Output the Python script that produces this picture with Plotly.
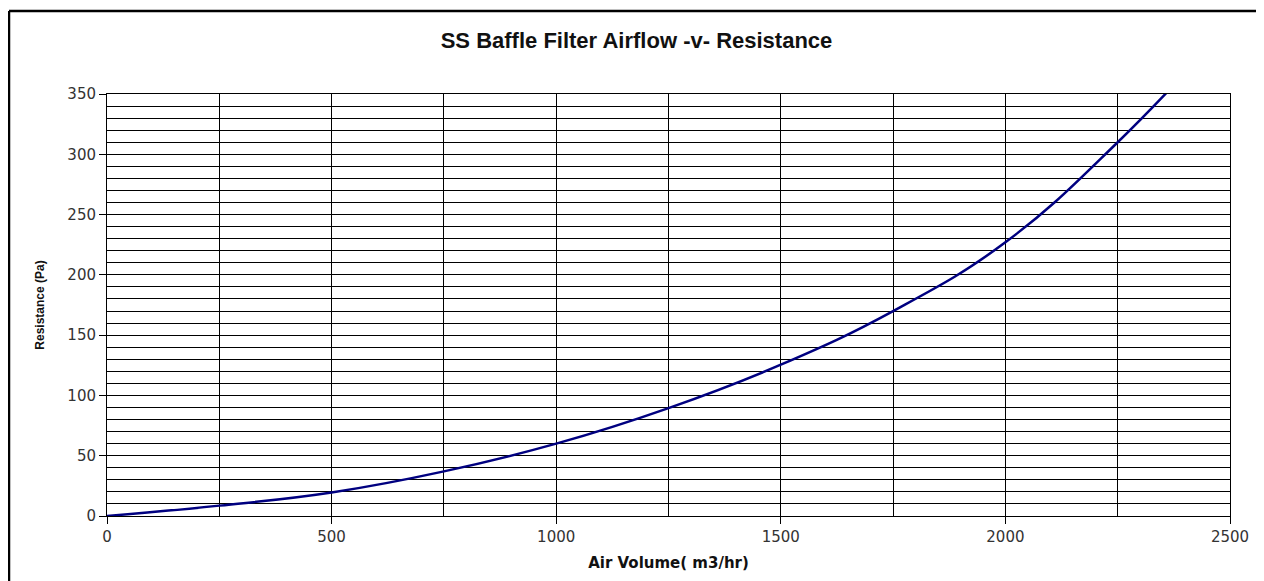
import plotly.graph_objects as go

air_volume = [0, 250, 500, 750, 1000, 1250, 1500, 1750, 2000, 2250, 2500]
resistance = [0, 8.6, 19.5, 37, 60, 89.5, 125.5, 170, 227, 310, 408]

x_ticks = [0, 500, 1000, 1500, 2000, 2500]
y_ticks = [0, 50, 100, 150, 200, 250, 300, 350]

fig = go.Figure()
fig.add_trace(go.Scatter(
    x=air_volume, y=resistance, mode="lines",
    line=dict(color="#000080", width=2.5, shape="spline", smoothing=1.2),
    showlegend=False, hoverinfo="x+y",
))

tick_font = dict(family="DejaVu Sans, Verdana, sans-serif", size=15, color="#333")
W, H = 1256, 573
L, R, T, B = 99, 34, 86, 65
pw, ph = W - L - R, H - T - B

fig.update_layout(
    width=W, height=H,
    margin=dict(l=L, r=R, t=T, b=B),
    paper_bgcolor="white", plot_bgcolor="white",
    font=dict(family="Liberation Sans, Arial, sans-serif", size=13, color="#222"),
    title=dict(text="<b>SS Baffle Filter Airflow -v- Resistance</b>",
               x=(628.5 - L) / pw, xref="paper", xanchor="center",
               y=1 - 32 / H, yref="container", yanchor="middle",
               font=dict(family="Liberation Sans, Arial, sans-serif", size=22, color="#111")),
    xaxis=dict(range=[0, 2500], tickvals=x_ticks, ticks="outside", ticklen=7,
               tickcolor="black", tickfont=tick_font,
               showline=True, linecolor="black", linewidth=1,
               mirror=True, showgrid=True, gridcolor="black", gridwidth=1,
               minor=dict(dtick=250, showgrid=True, gridcolor="black", gridwidth=1, ticks=""),
               zeroline=False, fixedrange=True,
               title=dict(text="<b>Air Volume( m3/hr)</b>",
                          font=dict(family="DejaVu Sans, Verdana, sans-serif", size=15, color="#111"),
                          standoff=12)),
    yaxis=dict(range=[0, 350], tickvals=y_ticks, ticks="outside", ticklen=7,
               tickcolor="black", tickfont=tick_font,
               showline=True, linecolor="black", linewidth=1,
               mirror=True, showgrid=True, gridcolor="black", gridwidth=1,
               minor=dict(dtick=10, showgrid=True, gridcolor="black", gridwidth=1, ticks=""),
               zeroline=False, fixedrange=True,
               title=dict(text="<b>Resistance (Pa)</b>",
                          font=dict(family="Liberation Sans, Arial, sans-serif",
                                    size=12, color="#111"),
                          standoff=20)),
    shapes=[
        dict(type="line", xref="paper", yref="paper",
             x0=(1 - L) / pw, x1=1.2, y0=1 + (T - 3) / ph, y1=1 + (T - 3) / ph,
             line=dict(color="black", width=2.5)),
        dict(type="line", xref="paper", yref="paper",
             x0=(1 - L) / pw, x1=(1 - L) / pw, y0=1 + (T - 3) / ph, y1=-0.5,
             line=dict(color="black", width=2.5)),
    ],
)

fig.write_html("out.html")
